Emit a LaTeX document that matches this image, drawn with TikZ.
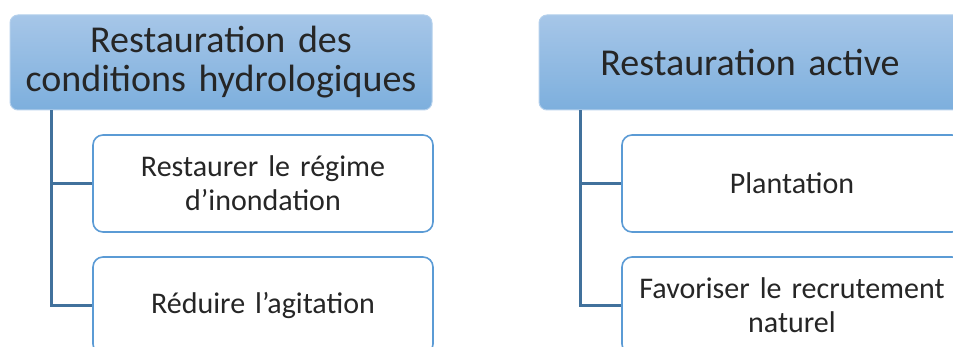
\documentclass[tikz,border=0pt]{standalone}
\usepackage{fontspec}
\setmainfont{Carlito}
\definecolor{txt}{HTML}{262626}
\definecolor{hdtop}{HTML}{A6C6E8}
\definecolor{hdbot}{HTML}{7DAFDD}
\definecolor{hdline}{HTML}{B4D0EC}
\definecolor{boxline}{HTML}{5B9BD5}
\definecolor{conncol}{HTML}{41719C}
\tikzset{
  header/.style={rectangle, rounded corners=8pt, top color=hdtop, bottom color=hdbot,
    draw=hdline, line width=1pt, minimum width=422pt, minimum height=95pt,
    text width=418pt, align=center, inner sep=0pt, text=txt,
    font=\fontsize{38}{39}\selectfont},
  childbox/.style={rectangle, rounded corners=10pt, fill=white, draw=boxline,
    line width=1.6pt, minimum width=340pt, minimum height=97pt,
    text width=336pt, align=center, inner sep=0pt, text=txt,
    font=\fontsize{30}{34}\selectfont},
  conn/.style={draw=conncol, line width=2.6pt}
}
\begin{document}
\begin{tikzpicture}[x=1pt,y=-1pt]
\useasboundingbox (0,0) rectangle (953,347);
\begin{scope}
\clip (0,0) rectangle (953,347);
\node[header] (hl) at (221,62.5) {Restauration des\\conditions hydrologiques};
\node[header] (hr) at (750,62.5) {Restauration active};
\node[childbox] (l1) at (263,183.5) {Restaurer le régime\\d’inondation};
\node[childbox] (l2) at (263,305.5) {Réduire l’agitation};
\node[childbox] (r1) at (792,183.5) {Plantation};
\node[childbox] (r2) at (792,305.5) {Favoriser le recrutement\\naturel};
\draw[conn] ([xshift=42pt]hl.south west) |- (l1.west);
\draw[conn] ([xshift=42pt]hl.south west) |- (l2.west);
\draw[conn] ([xshift=42pt]hr.south west) |- (r1.west);
\draw[conn] ([xshift=42pt]hr.south west) |- (r2.west);
\end{scope}
\end{tikzpicture}
\end{document}
